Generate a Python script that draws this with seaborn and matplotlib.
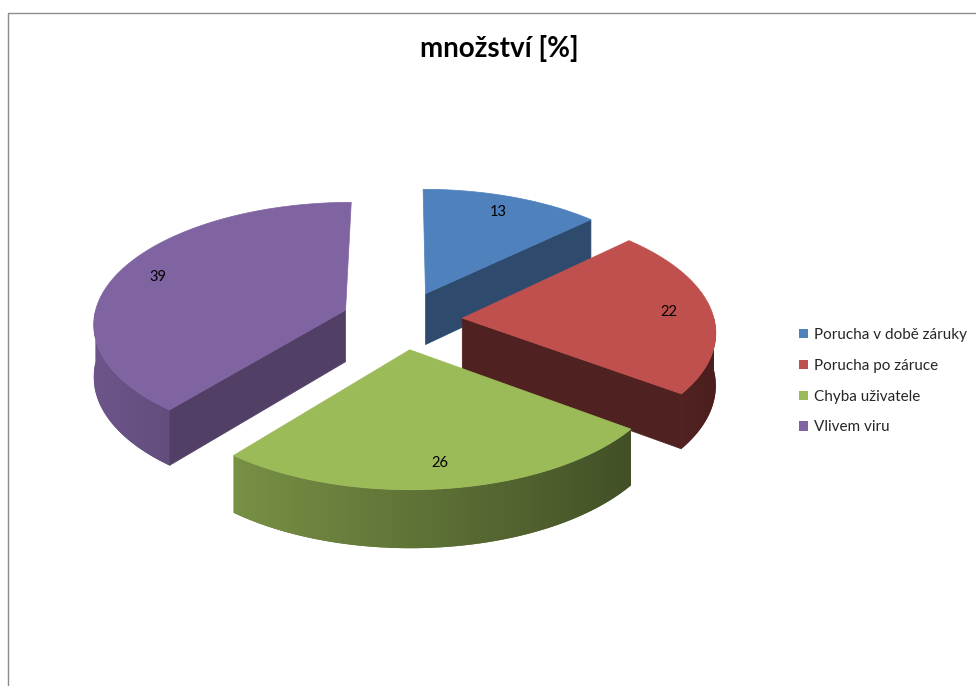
import numpy as np
import matplotlib
matplotlib.use("Agg")
import matplotlib.pyplot as plt
import seaborn as sns
from matplotlib.patches import Polygon, Rectangle, Patch
from matplotlib.colors import to_rgb

# ---- data ----
categories = ["Porucha v době záruky", "Porucha po záruce", "Chyba uživatele", "Vlivem viru"]
values = [13, 22, 26, 39]
value_labels = ["13", "22", "26", "39"]
colors = ["#4F81BD", "#C0504D", "#9BBB59", "#8064A2"]
title = "množství [%]"

sns.set_theme(style="white")
plt.rcParams['font.family'] = ['Lato', 'DejaVu Sans']

fig = plt.figure(figsize=(9.76, 6.86), dpi=100)
ax = fig.add_axes([0, 0, 1, 1])

# ---- 3D pie geometry (layout / style) ----
CX, CY = 402, 320
RX, RY = 252, 122
KX, KY = 0.10, 0.10
T0, KT = 52, 0.10
EXPLODE = 0.24
LABEL_R = 0.83
cut_shade = [0.58, 0.41, 0.60, 0.63]


def proj(u, v, down=False):
    u = np.asarray(u, float)
    v = np.asarray(v, float)
    X = CX + RX * u * (1 - KX * v)
    Y = CY - RY * v * (1 - KY * v)
    if down:
        Y = Y + T0 * (1 - KT * v)
    return X, Y


def shade(c, f):
    r, g, b = to_rgb(c)
    return (r * f, g * f, b * f)


def rim_f(theta_rad):
    return 0.62 - 0.24 * np.cos(theta_rad)


vals = np.array(values, float)
frac = vals / vals.sum()
cum = np.concatenate([[0], np.cumsum(frac)])
slices = []
for i in range(len(values)):
    a_start = 90 - cum[i] * 360
    a_end = 90 - cum[i + 1] * 360
    t1, t2 = a_end, a_start
    if t1 < -180:
        t1 += 360
        t2 += 360
    mid = 0.5 * (t1 + t2)
    slices.append((i, t1, t2, mid))

# draw back-to-front
slices.sort(key=lambda s: -np.sin(np.radians(s[3])))
z = 1
for i, t1, t2, mid in slices:
    col = colors[i]
    m = np.radians(mid)
    ou, ov = EXPLODE * np.cos(m), EXPLODE * np.sin(m)
    th = np.radians(np.linspace(t1, t2, 240))
    ru, rv = ou + np.cos(th), ov + np.sin(th)

    # rim (front-facing portion) with horizontal gradient
    for k in (-1, 0, 1):
        lo = max(t1, k * 360 - 180)
        hi = min(t2, k * 360)
        if hi <= lo:
            continue
        angs = np.radians(np.linspace(lo, hi, 200))
        uu, vv = ou + np.cos(angs), ov + np.sin(angs)
        xt, yt = proj(uu, vv)
        xb, yb = proj(uu, vv, down=True)
        pts = list(zip(xt, yt)) + list(zip(xb[::-1], yb[::-1]))
        fmid = rim_f(angs[len(angs) // 2])
        base = Polygon(pts, closed=True, facecolor=shade(col, fmid),
                       edgecolor='none', zorder=z)
        ax.add_patch(base)
        order = np.argsort(xt)
        xs = np.linspace(xt.min(), xt.max(), 300)
        a_of_x = np.interp(xs, xt[order], angs[order])
        fs = rim_f(a_of_x)
        rgb = np.array(to_rgb(col))
        img = np.clip(fs[:, None] * rgb[None, :], 0, 1)[None, :, :]
        clip = Polygon(pts, closed=True, facecolor='none', edgecolor='none', transform=ax.transData)
        im = ax.imshow(img, extent=(xt.min(), xt.max(), max(yb.max(), yt.max()) + 2, min(yt.min(), yb.min()) - 2),
                       aspect='auto', interpolation='bilinear', zorder=z + 0.1)
        im.set_clip_path(clip)

    # radial cut faces
    for t, vis in ((t2, np.cos(np.radians(t2)) < -1e-6), (t1, np.cos(np.radians(t1)) > 1e-6)):
        if not vis:
            continue
        tr = np.radians(t)
        uu = np.array([ou, ou + np.cos(tr)])
        vv = np.array([ov, ov + np.sin(tr)])
        xt, yt = proj(uu, vv)
        xb, yb = proj(uu, vv, down=True)
        c = shade(col, cut_shade[i])
        ax.add_patch(Polygon([(xt[0], yt[0]), (xt[1], yt[1]), (xb[1], yb[1]), (xb[0], yb[0])],
                             closed=True, facecolor=c, edgecolor=c, lw=0.5, zorder=z + 0.2))

    # top face
    xa, ya = proj(ou, ov)
    xr, yr = proj(ru, rv)
    pts = [(float(xa), float(ya))] + list(zip(xr, yr))
    ax.add_patch(Polygon(pts, closed=True, facecolor=col, edgecolor=col, lw=0.5, zorder=z + 0.3))

    # value label
    lx, ly = proj(ou + LABEL_R * np.cos(m), ov + LABEL_R * np.sin(m))
    ax.text(float(lx), float(ly), value_labels[i], ha='center', va='center',
            fontsize=10.5, color='black', zorder=20)
    z += 1

ax.set_xlim(0, 976)
ax.set_ylim(686, 0)
ax.axis('off')

# title
ax.text(499, 48, title, ha='center', va='center', fontsize=20, fontweight='bold', color='black')

# chart border
ax.add_patch(Rectangle((7.5, 12.5), 1200, 900, fill=False, edgecolor='#8c8c8c', lw=1.0, zorder=30))

# legend
handles = [Patch(facecolor=c, edgecolor='none') for c in colors]
fig.legend(handles, categories, loc='upper left', bbox_to_anchor=(0.819, 1 - 328 / 686),
           frameon=False, fontsize=11, handlelength=0.55, handleheight=0.55,
           handletextpad=0.4, labelspacing=1.1, borderaxespad=0, borderpad=0)

fig.savefig("out.png", dpi=100)
